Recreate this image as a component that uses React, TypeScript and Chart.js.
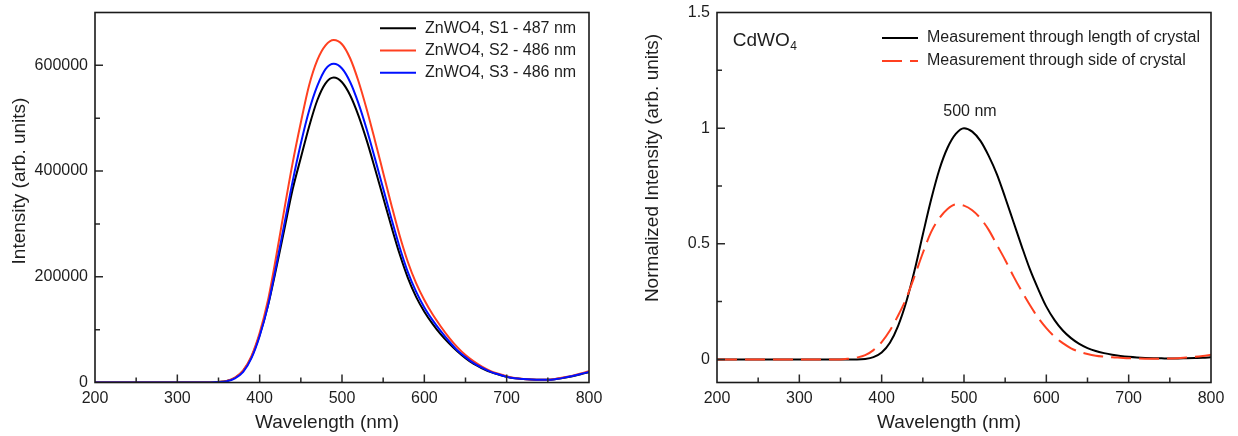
import React, { useEffect, useRef } from 'react';
import { Chart, registerables } from 'chart.js';

Chart.register(...registerables);

// ---------- data ----------
const wavelengths = [
  200, 210, 220, 230, 240, 250, 260, 270, 280, 290, 300, 310, 320, 330, 340,
  350, 360, 370, 380, 390, 400, 410, 420, 430, 440, 450, 460, 470, 480, 490,
  500, 510, 520, 530, 540, 550, 560, 570, 580, 590, 600, 610, 620, 630, 640,
  650, 660, 670, 680, 690, 700, 710, 720, 730, 740, 750, 760, 770, 780, 790, 800,
];

// Left panel: ZnWO4 samples
const znS1 = [
  0, 0, 0, 0, 0, 0, 0, 0, 0, 0, 0, 0, 0, 0, 0,
  1000, 3000, 9000, 22000, 48000, 90000, 145000, 215000, 290000, 365000,
  425000, 484000, 534000, 566000, 577000, 568000, 543000, 505000, 458000, 405000,
  350000, 295000, 243000, 198000, 162000, 134000, 111000, 91000, 74000, 59000,
  46000, 35000, 27000, 20000, 15000, 11000, 8000, 6500, 5500, 5000,
  5000, 6500, 9000, 12000, 15500, 19500,
];
const znS2 = [
  0, 0, 0, 0, 0, 0, 0, 0, 0, 0, 0, 0, 0, 0, 0,
  1000, 3000, 9500, 23000, 50000, 94000, 155000, 238000, 328000, 415000,
  492000, 562000, 610000, 638000, 648000, 640000, 613000, 570000, 517000, 458000,
  397000, 336000, 278000, 228000, 188000, 156000, 129000, 106000, 85000, 67000,
  52000, 40000, 30000, 22000, 16500, 12000, 8500, 6800, 5800, 5200,
  5300, 7000, 9800, 13000, 17000, 21500,
];
const znS3 = [
  0, 0, 0, 0, 0, 0, 0, 0, 0, 0, 0, 0, 0, 0, 0,
  800, 2500, 8000, 20000, 46000, 88000, 145000, 220000, 300000, 380000,
  452000, 514000, 561000, 593000, 603000, 594000, 568000, 528000, 479000, 424000,
  367000, 310000, 256000, 209000, 172000, 142000, 118000, 97000, 78000, 61000,
  48000, 36500, 28000, 20500, 15500, 11000, 8000, 6500, 5500, 5000,
  5000, 6500, 9200, 12500, 16000, 20000,
];

// Right panel: CdWO4 normalized
const cdLength = [
  0, 0, 0, 0, 0, 0, 0, 0, 0, 0, 0, 0, 0, 0, 0, 0, 0, 0,
  0.002, 0.01, 0.03, 0.072, 0.145, 0.25, 0.385, 0.54, 0.69, 0.82, 0.915, 0.975,
  1.0, 0.985, 0.945, 0.88, 0.8, 0.7, 0.595, 0.49, 0.39, 0.305,
  0.228, 0.17, 0.125, 0.092, 0.067, 0.049, 0.036, 0.027, 0.02, 0.015,
  0.011, 0.008, 0.006, 0.005, 0.0045, 0.004, 0.004, 0.005, 0.006, 0.007, 0.009,
];
const cdSide = [
  0, 0, 0, 0, 0, 0, 0, 0, 0, 0, 0, 0, 0, 0, 0, 0,
  0.003, 0.008, 0.018, 0.04, 0.075, 0.125, 0.19, 0.265, 0.36, 0.46, 0.55, 0.61, 0.65, 0.67,
  0.665, 0.645, 0.61, 0.56, 0.495, 0.43, 0.36, 0.295, 0.235, 0.18,
  0.135, 0.098, 0.07, 0.048, 0.033, 0.023, 0.016, 0.012, 0.009, 0.007,
  0.005, 0.004, 0.003, 0.003, 0.003, 0.004, 0.005, 0.008, 0.011, 0.015, 0.02,
];

// ticks
const xTicks = [200, 250, 300, 350, 400, 450, 500, 550, 600, 650, 700, 750, 800];
const xTickLabels = ['200', '', '300', '', '400', '', '500', '', '600', '', '700', '', '800'];
const leftYTicks = [0, 100000, 200000, 300000, 400000, 500000, 600000, 700000];
const leftYTickLabels = ['0', '', '200000', '', '400000', '', '600000', ''];
const rightYTicks = [0, 0.25, 0.5, 0.75, 1, 1.25, 1.5];
const rightYTickLabels = ['0', '', '0.5', '', '1', '', '1.5'];

const leftLegend = ['ZnWO4, S1 - 487 nm', 'ZnWO4, S2 - 486 nm', 'ZnWO4, S3 - 486 nm'];
const rightLegend = ['Measurement through length of crystal', 'Measurement through side of crystal'];

// ---------- style ----------
const FONT = "'Liberation Sans', Arial, Helvetica, sans-serif";
const TEXT = '#1e1e1e';
const RED = '#ff4020';

function decorPlugin(cfg: any) {
  return {
    id: 'decor',
    afterDatasetsDraw(chart: any) {
      const ctx = chart.ctx;
      const a = chart.chartArea;
      const xs = chart.scales.x;
      const ys = chart.scales.y;
      ctx.save();
      ctx.setLineDash([]);
      // inward tick marks
      ctx.strokeStyle = '#2a2a2a';
      ctx.lineWidth = 1.5;
      ctx.beginPath();
      cfg.xTicks.forEach((v: number, i: number) => {
        const p = xs.getPixelForValue(v);
        if (p - a.left < 1 || a.right - p < 1) return;
        const len = cfg.xLabels[i] ? 8 : 5;
        ctx.moveTo(p, a.bottom);
        ctx.lineTo(p, a.bottom - len);
      });
      cfg.yTicks.forEach((v: number, i: number) => {
        const p = ys.getPixelForValue(v);
        if (p - a.top < 1 || a.bottom - p < 1) return;
        const len = cfg.yLabels[i] ? 8 : 5;
        ctx.moveTo(a.left, p);
        ctx.lineTo(a.left + len, p);
      });
      ctx.stroke();
      // frame
      ctx.strokeStyle = '#1a1a1a';
      ctx.lineWidth = 1.6;
      ctx.strokeRect(a.left, a.top, a.right - a.left, a.bottom - a.top);

      // legend
      const lg = cfg.legend;
      chart.data.datasets.forEach((ds: any, i: number) => {
        const y = lg.y0 + i * lg.dy;
        ctx.strokeStyle = ds.borderColor;
        ctx.lineWidth = 2;
        ctx.setLineDash(ds.borderDash || []);
        ctx.beginPath();
        ctx.moveTo(lg.x0, y);
        ctx.lineTo(lg.x1, y);
        ctx.stroke();
        ctx.setLineDash([]);
        ctx.fillStyle = TEXT;
        ctx.font = `16px ${FONT}`;
        ctx.textAlign = 'left';
        ctx.textBaseline = 'middle';
        ctx.fillText(ds.label, lg.tx, y);
      });

      // axis titles
      ctx.fillStyle = TEXT;
      ctx.font = `19px ${FONT}`;
      ctx.textAlign = 'center';
      ctx.textBaseline = 'middle';
      ctx.fillText(cfg.xTitle, (a.left + a.right) / 2 + cfg.xTitleDx, cfg.xTitleY);
      ctx.save();
      ctx.translate(cfg.yTitleX, cfg.yTitleY);
      ctx.rotate(-Math.PI / 2);
      ctx.fillText(cfg.yTitle, 0, 0);
      ctx.restore();

      if (cfg.extra) cfg.extra(ctx, chart);
      ctx.restore();
    },
  };
}

function makeOptions(o: any) {
  return {
    responsive: false,
    animation: false,
    devicePixelRatio: 1,
    layout: { padding: { left: 0, top: 12.5, right: o.padRight, bottom: 0 } },
    plugins: { legend: { display: false }, tooltip: { enabled: false }, title: { display: false } },
    elements: {
      point: { radius: 0 },
      line: { borderWidth: 2, cubicInterpolationMode: 'monotone', fill: false },
    },
    scales: {
      x: {
        type: 'linear',
        min: 200,
        max: 800,
        grid: { display: false, drawTicks: false },
        border: { display: false },
        afterBuildTicks: (s: any) => {
          s.ticks = xTicks.map((v) => ({ value: v }));
        },
        afterFit: (s: any) => {
          s.height = 53.5;
          s.paddingLeft = 0;
          s.paddingRight = 0;
        },
        ticks: {
          autoSkip: false,
          maxRotation: 0,
          minRotation: 0,
          padding: 6,
          color: TEXT,
          font: { family: FONT, size: 16 },
          callback: (v: number) => xTickLabels[xTicks.indexOf(v)] ?? '',
        },
      },
      y: {
        type: 'linear',
        min: o.yMin,
        max: o.yMax,
        grid: { display: false, drawTicks: false },
        border: { display: false },
        afterBuildTicks: (s: any) => {
          s.ticks = o.yTicks.map((v: number) => ({ value: v }));
        },
        afterFit: (s: any) => {
          s.width = o.yWidth;
          s.paddingTop = 0;
          s.paddingBottom = 0;
        },
        ticks: {
          autoSkip: false,
          padding: 7,
          color: TEXT,
          font: { family: FONT, size: 16 },
          callback: (v: number) => o.yLabels[o.yTicks.indexOf(v)] ?? '',
        },
      },
    },
  };
}

export default function App() {
  const leftRef = useRef<HTMLCanvasElement | null>(null);
  const rightRef = useRef<HTMLCanvasElement | null>(null);

  useEffect(() => {
    const pts = (arr: number[]) => wavelengths.map((x, i) => ({ x, y: arr[i] }));

    const left = new Chart(leftRef.current as HTMLCanvasElement, {
      type: 'line',
      data: {
        datasets: [
          { label: leftLegend[0], data: pts(znS1), borderColor: '#000000', order: 2 },
          { label: leftLegend[1], data: pts(znS2), borderColor: RED, order: 1 },
          { label: leftLegend[2], data: pts(znS3), borderColor: '#0010ff', order: 0 },
        ],
      },
      options: makeOptions({
        padRight: 31,
        yMin: 0,
        yMax: 700000,
        yTicks: leftYTicks,
        yLabels: leftYTickLabels,
        yWidth: 95,
      }) as any,
      plugins: [
        decorPlugin({
          xTicks,
          xLabels: xTickLabels,
          yTicks: leftYTicks,
          yLabels: leftYTickLabels,
          legend: { x0: 380, x1: 416, tx: 425, y0: 28.3, dy: 22.2 },
          xTitle: 'Wavelength (nm)',
          xTitleDx: -15,
          xTitleY: 423,
          yTitle: 'Intensity (arb. units)',
          yTitleX: 19.5,
          yTitleY: 181,
        }),
      ],
    });

    const right = new Chart(rightRef.current as HTMLCanvasElement, {
      type: 'line',
      data: {
        datasets: [
          { label: rightLegend[0], data: pts(cdLength), borderColor: '#000000', order: 1 },
          { label: rightLegend[1], data: pts(cdSide), borderColor: RED, borderDash: [20, 8], order: 0 },
        ],
      },
      options: makeOptions({
        padRight: 27,
        yMin: -0.1,
        yMax: 1.5,
        yTicks: rightYTicks,
        yLabels: rightYTickLabels,
        yWidth: 97,
      }) as any,
      plugins: [
        decorPlugin({
          xTicks,
          xLabels: xTickLabels,
          yTicks: rightYTicks,
          yLabels: rightYTickLabels,
          legend: { x0: 262, x1: 298, tx: 307, y0: 38, dy: 23 },
          xTitle: 'Wavelength (nm)',
          xTitleDx: -15,
          xTitleY: 423,
          yTitle: 'Normalized Intensity (arb. units)',
          yTitleX: 33,
          yTitleY: 168,
          extra: (ctx: CanvasRenderingContext2D, chart: any) => {
            const a = chart.chartArea;
            const xs = chart.scales.x;
            const ys = chart.scales.y;
            ctx.fillStyle = TEXT;
            ctx.textAlign = 'left';
            ctx.textBaseline = 'alphabetic';
            ctx.font = `19px ${FONT}`;
            const bx = a.left + 15.7;
            const by = a.top + 33;
            ctx.fillText('CdWO', bx, by);
            const w = ctx.measureText('CdWO').width;
            ctx.font = `12px ${FONT}`;
            ctx.fillText('4', bx + w + 0.5, by + 4.5);
            ctx.font = `16px ${FONT}`;
            ctx.textAlign = 'center';
            ctx.textBaseline = 'middle';
            ctx.fillText('500 nm', xs.getPixelForValue(500) + 6, ys.getPixelForValue(1) - 17);
          },
        }),
      ],
    });

    return () => {
      left.destroy();
      right.destroy();
    };
  }, []);

  return (
    <div style={{ position: 'absolute', left: 0, top: 0, width: 1238, height: 436, background: '#ffffff' }}>
      <canvas
        ref={leftRef}
        width={620}
        height={436}
        style={{ position: 'absolute', left: 0, top: 0, width: 620, height: 436 }}
      />
      <canvas
        ref={rightRef}
        width={618}
        height={436}
        style={{ position: 'absolute', left: 620, top: 0, width: 618, height: 436 }}
      />
    </div>
  );
}
